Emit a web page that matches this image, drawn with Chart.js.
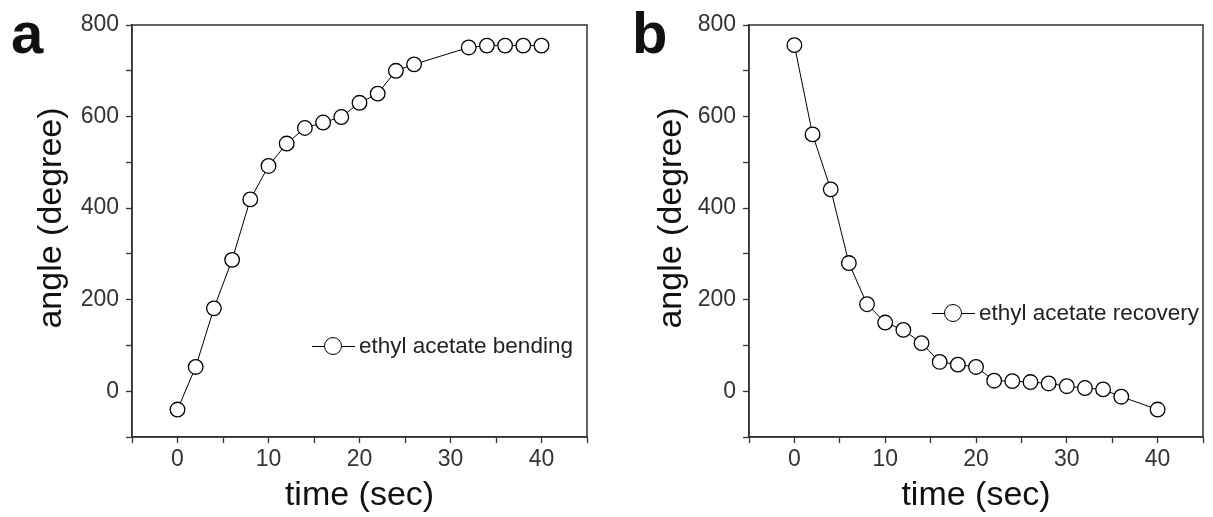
<!DOCTYPE html>
<html>
<head>
<meta charset="utf-8">
<script src="https://cdn.jsdelivr.net/npm/chart.js@4/dist/chart.umd.min.js"></script>
<style>
  body { margin: 0; background: #fff; width: 1213px; height: 517px; position: relative; overflow: hidden;
         font-family: "Liberation Sans", Arial, sans-serif; }
  .panel { position: absolute; top: 0; height: 517px; }
  .letter { position: absolute; font-weight: bold; font-size: 58px; color: #111; line-height: 1; }
  .ytitle { position: absolute; font-size: 34px; color: #111; white-space: nowrap; line-height: 1;
            transform: translate(-50%, -50%) rotate(-90deg); }
  .legend { position: absolute; display: flex; align-items: center; transform: translateY(-50%);
            font-size: 22.5px; color: #222; white-space: nowrap; }
  .legend .sym { position: relative; width: 43px; height: 18px; margin-right: 4px; }
  .legend .sym::before { content: ""; position: absolute; left: 0; right: 0; top: 8.5px; height: 1.3px; background: #000; }
  .legend .sym::after { content: ""; position: absolute; left: 12px; top: 0; width: 16px; height: 16px;
                        border: 1.3px solid #000; border-radius: 50%; background: #fff; }
</style>
</head>
<body>
<div class="panel" style="left:0;width:600px"><canvas id="chartA"></canvas></div>
<div class="panel" style="left:600px;width:613px"><canvas id="chartB"></canvas></div>
<div class="letter" style="left:11px;top:4px">a</div>
<div class="letter" style="left:632px;top:4px">b</div>
<div class="ytitle" id="ytA" style="left:49px;top:218px"></div>
<div class="ytitle" id="ytB" style="left:669px;top:218px"></div>
<div class="legend" id="legA" style="left:312px;top:346px"><span class="sym"></span><span class="txt"></span></div>
<div class="legend" id="legB" style="left:932px;top:313px"><span class="sym"></span><span class="txt"></span></div>
<script>
// panel a: bending
const timeA = [0, 2, 4, 6, 8, 10, 12, 14, 16, 18, 20, 22, 24, 26, 32, 34, 36, 38, 40];
const angleA = [-40, 53, 181, 287, 419, 492, 541, 575, 587, 599, 630, 650, 700, 714, 751, 755, 755, 755, 755];
// panel b: recovery
const timeB = [0, 2, 4, 6, 8, 10, 12, 14, 16, 18, 20, 22, 24, 26, 28, 30, 32, 34, 36, 40];
const angleB = [756, 561, 441, 280, 190, 150, 134, 105, 64, 58, 53, 23, 22, 20, 17, 11, 7, 4, -12, -40];

const labelA = 'ethyl acetate bending';
const labelB = 'ethyl acetate recovery';
const xTitle = 'time (sec)';
const yTitle = 'angle (degree)';
const xRange = [-5, 45];
const yRange = [-100, 800];

const frame = {
  id: 'frame',
  afterDraw(chart) {
    const { ctx, chartArea: a } = chart;
    ctx.save();
    ctx.strokeStyle = '#333';
    ctx.lineWidth = 1.5;
    ctx.strokeRect(a.left, a.top, a.right - a.left, a.bottom - a.top);
    ctx.restore();
  }
};

function makeChart(id, xs, ys, label, yWidth, padRight) {
  const tickFont = { family: '"Liberation Sans", Arial, sans-serif', size: 23 };
  const titleFont = { family: '"Liberation Sans", Arial, sans-serif', size: 34 };
  return new Chart(document.getElementById(id), {
    type: 'scatter',
    data: {
      datasets: [{
        label: label,
        data: xs.map((x, i) => ({ x: x, y: ys[i] })),
        showLine: true,
        borderColor: '#000',
        borderWidth: 1,
        pointRadius: 7.3,
        pointBorderWidth: 1.3,
        pointBackgroundColor: '#fff',
        pointBorderColor: '#000',
      }],
    },
    options: {
      responsive: false,
      maintainAspectRatio: false,
      animation: false,
      events: [],
      layout: { padding: { top: 25, right: padRight, left: 0, bottom: 0 } },
      plugins: { legend: { display: false }, tooltip: { enabled: false } },
      scales: {
        x: {
          type: 'linear', min: xRange[0], max: xRange[1],
          afterFit: s => { s.height = 80; },
          border: { display: true, color: '#333', width: 1.5 },
          grid: { drawOnChartArea: false, tickLength: 6, color: '#333', tickWidth: 1.3 },
          ticks: { stepSize: 5, autoSkip: false, maxRotation: 0, padding: 3, color: '#333', font: tickFont,
                   callback: v => (v % 10 === 0 ? v : '') },
          title: { display: true, text: xTitle, color: '#111', font: titleFont, padding: { top: 0, bottom: 1 } },
        },
        y: {
          type: 'linear', min: yRange[0], max: yRange[1],
          afterFit: s => { s.width = yWidth; },
          border: { display: true, color: '#333', width: 1.5 },
          grid: { drawOnChartArea: false, tickLength: 6, color: '#333', tickWidth: 1.3 },
          ticks: { stepSize: 100, autoSkip: false, padding: 7, color: '#333', font: tickFont,
                   callback: v => (v % 200 === 0 ? v : '') },
        },
      },
    },
    plugins: [frame],
  });
}

const cA = document.getElementById('chartA');
cA.width = 600; cA.height = 517;
const cB = document.getElementById('chartB');
cB.width = 613; cB.height = 517;

makeChart('chartA', timeA, angleA, labelA, 132, 13);
makeChart('chartB', timeB, angleB, labelB, 149, 10);

document.getElementById('ytA').textContent = yTitle;
document.getElementById('ytB').textContent = yTitle;
document.querySelector('#legA .txt').textContent = labelA;
document.querySelector('#legB .txt').textContent = labelB;
</script>
</body>
</html>
